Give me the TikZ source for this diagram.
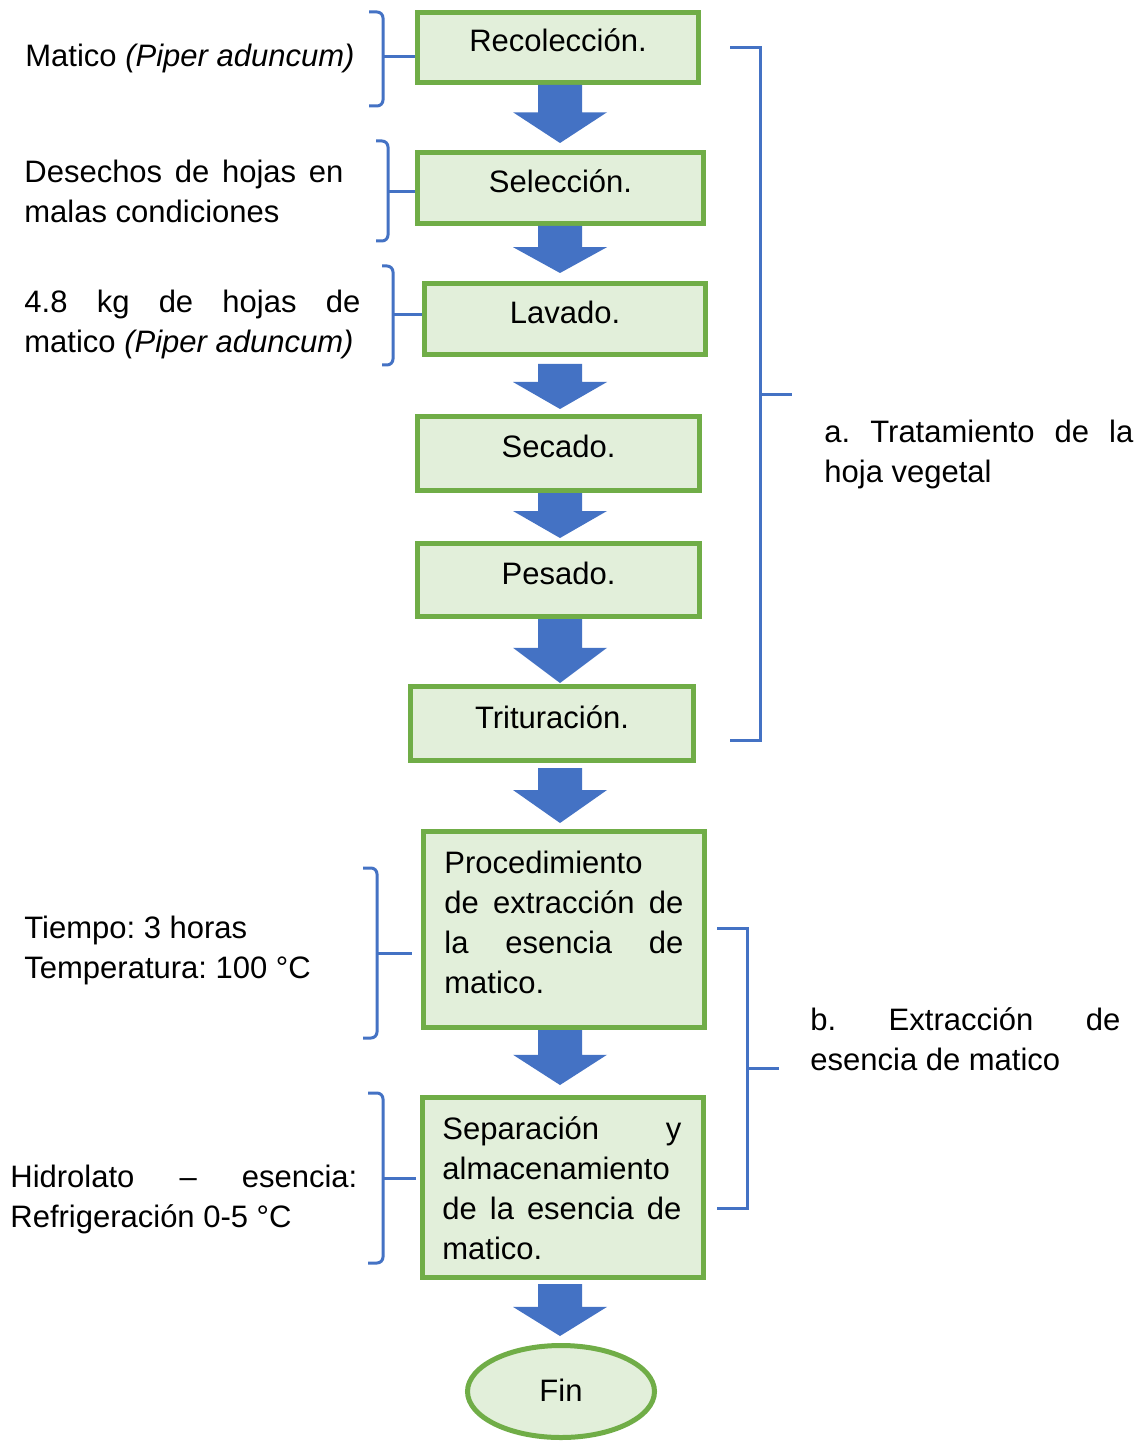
\documentclass[tikz,border=0pt]{standalone}
\usepackage{fontspec}
\setmainfont{Liberation Sans}
\usetikzlibrary{calc,shapes.geometric}
\definecolor{gbord}{HTML}{70AD47}
\definecolor{gfill}{HTML}{E2EFDA}
\definecolor{bl}{HTML}{4472C4}
\newcommand\jline[2]{\hbox to #1{#2}}
\newcommand\flowarrow[5]{%
  \path ($(#1.south)+(0,#3)$) coordinate (fa1) ($(#2.north)+(0,-#4)$) coordinate (fa2);
  \path ($(fa1)!#5!(fa2)$) coordinate (fah);
  \fill[bl] (fa1 -| xl) -- (fa1 -| xr) -- (fah -| xr) -- (fah -| xR) -- (fa2 -| xc) -- (fah -| xL) -- (fah -| xl) -- cycle;}
\begin{document}
\frenchspacing
\begin{tikzpicture}[x=0.5pt,y=-0.5pt,
  txt/.style={font=\fontsize{15.5pt}{20pt}\selectfont, inner sep=0pt, text=black},
  procbox/.style={draw=gbord, fill=gfill, line width=2.5pt, inner sep=0pt,
    font=\fontsize{15.5pt}{20pt}\selectfont, text height=11pt, text depth=6.5pt},
  brk/.style={draw=bl, line width=1.5pt}]
\useasboundingbox (0,0) rectangle (1140,1443);
\fill[white] (0,0) rectangle (1140,1443);

\coordinate (xl) at (538,0);
\coordinate (xr) at (582,0);
\coordinate (xL) at (513,0);
\coordinate (xR) at (607,0);
\coordinate (xc) at (560,0);

% process boxes
\node[procbox, minimum width=140.5pt, minimum height=35pt] (b1) at (558,47.5) {Recolección.};
\node[procbox, minimum width=143pt, minimum height=35.5pt] (b2) at (560.5,188) {Selección.};
\node[procbox, minimum width=140.5pt, minimum height=35.5pt] (b3) at (565,319) {Lavado.};
\node[procbox, minimum width=141pt, minimum height=37pt] (b4) at (558.5,453.5) {Secado.};
\node[procbox, minimum width=141pt, minimum height=36.5pt] (b5) at (558.5,580) {Pesado.};
\node[procbox, minimum width=141.5pt, minimum height=37pt] (b6) at (552,723.5) {Trituración.};
\node[procbox, minimum width=140.5pt, minimum height=98pt] (b7) at (564,929.5) {};
\node[procbox, minimum width=140.5pt, minimum height=90pt] (b8) at (563,1187.5) {};
\node[procbox, ellipse, minimum width=93.5pt, minimum height=46pt, text depth=1.5pt] (fin) at (561,1391.5) {Fin};

\node[txt, anchor=base west] (b7t) at (444,873) {\vtop{%
  \jline{119.5pt}{Procedimiento\hfill}%
  \jline{119.5pt}{de\hfill extracción\hfill de}%
  \jline{119.5pt}{la\hfill esencia\hfill de}%
  \jline{119.5pt}{matico.\hfill}}};
\node[txt, anchor=base west] (b8t) at (442,1139) {\vtop{%
  \jline{119.5pt}{Separación\hfill y}%
  \jline{119.5pt}{almacenamiento\hfill}%
  \jline{119.5pt}{de\hfill la\hfill esencia\hfill de}%
  \jline{119.5pt}{matico.\hfill}}};

% block arrows
\flowarrow{b1}{b2}{0}{7}{0.47}
\flowarrow{b2}{b3}{0}{8}{0.45}
\flowarrow{b3}{b4}{7}{5}{0.4}
\flowarrow{b4}{b5}{0}{3}{0.4}
\flowarrow{b5}{b6}{0}{1}{0.45}
\flowarrow{b6}{b7}{5}{6}{0.4}
\flowarrow{b7}{b8}{0}{10}{0.45}
\flowarrow{b8}{fin}{4}{7}{0.44}

% left texts
\node[txt, anchor=base west] (t1) at (25,67) {Matico \textit{(Piper aduncum)}};
\node[txt, anchor=base west] (t2) at (24,183) {\vtop{%
  \jline{159.5pt}{Desechos\hfill de\hfill hojas\hfill en}%
  \jline{159.5pt}{malas condiciones\hfill}}};
\node[txt, anchor=base west] (t3) at (24,313) {\vtop{%
  \jline{168pt}{4.8\hfill kg\hfill de\hfill hojas\hfill de}%
  \jline{168pt}{matico \textit{(Piper aduncum)}\hfill}}};
\node[txt, anchor=base west] (t4) at (24,938) {\vtop{%
  \hbox{Tiempo: 3 horas}%
  \hbox{Temperatura: 100 °C}}};
\node[txt, anchor=base west] (t5) at (10,1187) {\vtop{%
  \jline{173.5pt}{Hidrolato\hfill –\hfill esencia:}%
  \hbox{Refrigeración 0-5 °C}}};

% right texts
\node[txt, anchor=base west] (ta) at (824,443) {\vtop{%
  \jline{154.5pt}{a.\hfill Tratamiento\hfill de\hfill la}%
  \hbox{hoja vegetal}}};
\node[txt, anchor=base west] (tb) at (810,1030) {\vtop{%
  \jline{155pt}{b.\hfill Extracción\hfill de}%
  \hbox{esencia de matico}}};

% left brackets
\coordinate (k1) at (383,57);
\draw[brk, rounded corners=3pt] (369,12) -- (383,12) -- (383,106) -- (369,106);
\draw[brk] (k1) -- (k1 -| b1.west);
\coordinate (k2) at (388,192);
\draw[brk, rounded corners=3pt] (376,141) -- (388,141) -- (388,241) -- (376,241);
\draw[brk] (k2) -- (k2 -| b2.west);
\coordinate (k3) at (393,315);
\draw[brk, rounded corners=3pt] (382,266) -- (393,266) -- (393,365) -- (382,365);
\draw[brk] (k3) -- (k3 -| b3.west);
\coordinate (k4) at (377,953);
\coordinate (e4) at (412,953);
\draw[brk, rounded corners=3pt] (363,868) -- (377,868) -- (377,1038) -- (363,1038);
\draw[brk] (k4) -- (e4);
\coordinate (k5) at (383,1178);
\coordinate (e5) at (416,1178);
\draw[brk, rounded corners=3pt] (368,1093) -- (383,1093) -- (383,1263) -- (368,1263);
\draw[brk] (k5) -- (e5);

% right brackets
\draw[brk] (730,48) -- (760,48) -- (760,740) -- (730,740);
\coordinate (ka) at (760,395);
\coordinate (ea) at (792,395);
\draw[brk] (ka) -- (ea);
\draw[brk] (717,928) -- (747,928) -- (747,1208) -- (717,1208);
\coordinate (kb) at (747,1068);
\coordinate (eb) at (779,1068);
\draw[brk] (kb) -- (eb);
\end{tikzpicture}
\end{document}
